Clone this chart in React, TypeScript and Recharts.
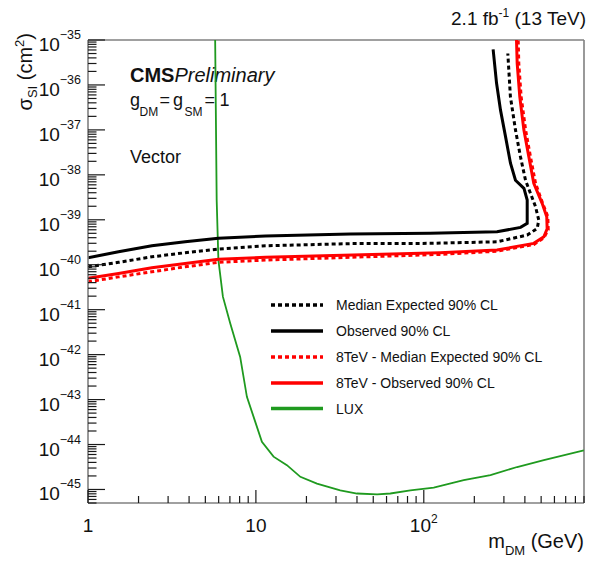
import React from 'react';
import { LineChart, Line, XAxis, YAxis, Customized } from 'recharts';

const W = 593;
const H = 565;
// plot frame (page pixels)
const PL = 88;
const PT = 40;
const PR = 584;
const PB = 503;
const FONT = '"Liberation Sans", Arial, Helvetica, sans-serif';

const massDomain: [number, number] = [1, 900];
const xsecDomain: [number, number] = [5e-46, 1e-35];

// 13 TeV observed 90% CL (GeV, cm^2)
const obs13Mass = [1, 1.52, 2.4, 3.79, 5.98, 11.4, 36.5, 109, 273, 377, 413, 413, 395, 351.6, 328.4, 306.8, 286.4, 271.2, 258.8];
const obs13Xsec = [1.43e-40, 1.94e-40, 2.64e-40, 3.24e-40, 3.86e-40, 4.35e-40, 4.81e-40, 4.99e-40, 5.41e-40, 6.78e-40, 8.32e-40, 2.75e-39, 5.01e-39, 7.59e-39, 1.82e-38, 7.08e-38, 2.75e-37, 1.10e-36, 6.17e-36];

// 13 TeV median expected 90% CL
const exp13Mass = [1, 1.52, 2.4, 3.79, 5.98, 11.4, 36.5, 109, 273, 413, 474, 484, 463, 403.6, 376.7, 351.6, 328, 316.6];
const exp13Xsec = [8.99e-41, 1.13e-40, 1.5e-40, 1.85e-40, 2.23e-40, 2.64e-40, 2.95e-40, 2.99e-40, 3.24e-40, 4.57e-40, 6.44e-40, 9.86e-40, 1.95e-39, 7.59e-39, 2.51e-38, 1.0e-37, 5.5e-37, 5.01e-36];

// 8 TeV observed 90% CL
const obs8Mass = [1, 1.52, 2.4, 3.79, 5.98, 11.4, 125, 273, 452, 519, 543, 540, 507, 452, 422.6, 394.5, 373, 360, 356.6];
const obs8Xsec = [4.97e-41, 6.41e-41, 8.55e-41, 1.07e-40, 1.32e-40, 1.46e-40, 1.85e-40, 2.12e-40, 2.99e-40, 4.19e-40, 6.31e-40, 1.17e-39, 2.32e-39, 6.46e-39, 2.51e-38, 1.0e-37, 5.5e-37, 3.02e-36, 1.0e-35];

// 8 TeV median expected 90% CL
const exp8Mass = [1, 1.52, 2.4, 3.79, 5.98, 11.4, 125, 273, 452, 519, 551, 548, 510, 463, 432, 404, 380, 368, 365];
const exp8Xsec = [4.17e-41, 5.37e-41, 6.97e-41, 8.99e-41, 1.13e-40, 1.27e-40, 1.7e-40, 2.0e-40, 2.82e-40, 3.98e-40, 6.03e-40, 1.17e-39, 2.34e-39, 6.46e-39, 2.51e-38, 1.0e-37, 5.5e-37, 3.02e-36, 1.0e-35];

// LUX limit
const luxMass = [5.72, 5.84, 5.98, 6.36, 7.03, 8.06, 8.84, 9.68, 10.86, 12.74, 15.3, 18.4, 23.1, 31.8, 40.0, 52.7, 63.2, 83.2, 114.6, 172.9, 249.5, 359.6, 518.8, 898];
const luxXsec = [1e-35, 2.75e-39, 1.26e-40, 1.95e-41, 5.01e-42, 8.91e-43, 1.15e-43, 4.17e-44, 1.15e-44, 5.37e-45, 3.47e-45, 1.91e-45, 1.35e-45, 9.55e-46, 8.13e-46, 7.76e-46, 8.13e-46, 9.55e-46, 1.10e-45, 1.62e-45, 2.09e-45, 3.16e-45, 4.47e-45, 7.41e-45];

const legendLabels = [
  'Median Expected 90% CL',
  'Observed 90% CL',
  '8TeV - Median Expected 90% CL',
  '8TeV - Observed 90% CL',
  'LUX',
];

const zip = (m: number[], s: number[]) => m.map((v, i) => ({ m: v, s: s[i] }));

const obs13 = zip(obs13Mass, obs13Xsec);
const exp13 = zip(exp13Mass, exp13Xsec);
const obs8 = zip(obs8Mass, obs8Xsec);
const exp8 = zip(exp8Mass, exp8Xsec);
const lux = zip(luxMass, luxXsec);

// decade + sub-decade tick values for the log axes
const logTicks = (eMin: number, eMax: number, lo: number, hi: number) => {
  const out: number[] = [];
  for (let e = eMin; e <= eMax; e++) {
    for (let k = 1; k <= 9; k++) {
      const v = Number(`${k}e${e}`);
      if (v >= lo * 0.999999 && v <= hi * 1.000001) out.push(v);
    }
  }
  return out;
};
const xTicks = logTicks(0, 2, massDomain[0], massDomain[1]);
const yTicks = logTicks(-46, -35, xsecDomain[0], xsecDomain[1]);

const decadeOf = (v: number) => {
  const l = Math.log10(v);
  const e = Math.round(l);
  return Math.abs(l - e) < 1e-6 ? e : null;
};

const BLACK = '#000000';
const RED = '#ff0000';
const GREEN = '#1f9a1f';
const DASH = '4 3';

function XTick(props: any) {
  const { x, payload } = props;
  const e = decadeOf(payload.value);
  const major = e !== null;
  return (
    <g>
      <line x1={x} x2={x} y1={PB} y2={PB - (major ? 13 : 7)} stroke="#1a1a1a" strokeWidth={1.2} />
      {major && (
        <text x={x} y={PB + 29} textAnchor="middle" fontFamily={FONT} fontSize={19} fill="#111">
          {e! < 2 ? String(10 ** e!) : (
            <>
              10
              <tspan dy={-9} fontSize={12}>{e}</tspan>
            </>
          )}
        </text>
      )}
    </g>
  );
}

function YTick(props: any) {
  const { y, payload } = props;
  const e = decadeOf(payload.value);
  const major = e !== null;
  return (
    <g>
      <line x1={PL} x2={PL + (major ? 17 : 8.5)} y1={y} y2={y} stroke="#1a1a1a" strokeWidth={1.2} />
      {major && (
        <text x={81} y={y + 11} textAnchor="end" fontFamily={FONT} fontSize={19} fill="#111">
          10
          <tspan dy={-12} fontSize={12.5}>{`\u2212${Math.abs(e!)}`}</tspan>
        </text>
      )}
    </g>
  );
}

const legendStyles = [
  { color: BLACK, dash: DASH },
  { color: BLACK, dash: undefined },
  { color: RED, dash: DASH },
  { color: RED, dash: undefined },
  { color: GREEN, dash: undefined },
];
const legendRowsY = [305, 331, 357, 383, 408.5];

function Overlay() {
  return (
    <g fontFamily={FONT} fill="#111">
      {/* frame top and right */}
      <line x1={PL} y1={PT} x2={PR} y2={PT} stroke="#808080" strokeWidth={1.6} />
      <line x1={PR} y1={PT} x2={PR} y2={PB} stroke="#808080" strokeWidth={1.6} />

      {/* label box */}
      <rect x={122} y={50} width={170} height={74} fill="#ffffff" />
      <text x={130} y={81.7} fontSize={20}>
        <tspan fontWeight="bold">CMS</tspan>
        <tspan fontStyle="italic">Preliminary</tspan>
      </text>
      <text y={106} fontSize={18}>
        <tspan x={130}>g</tspan>
        <tspan x={139.5} dy={10} fontSize={12}>DM</tspan>
        <tspan x={159.5} dy={-10}>=</tspan>
        <tspan x={173}>g</tspan>
        <tspan x={184.5} dy={10} fontSize={12}>SM</tspan>
        <tspan x={204.5} dy={-10}>=</tspan>
        <tspan x={219.5}>1</tspan>
      </text>
      <text x={130} y={163.3} fontSize={18}>Vector</text>

      {/* luminosity label */}
      <text x={586} y={25} textAnchor="end" fontSize={19}>
        2.1 fb<tspan dy={-8} fontSize={12}>-1</tspan>
        <tspan dy={8}> (13 TeV)</tspan>
      </text>

      {/* axis titles */}
      <text x={584} y={548} textAnchor="end" fontSize={20}>
        m<tspan dy={7} fontSize={13}>DM</tspan>
        <tspan dy={-7}> (GeV)</tspan>
      </text>
      <text transform="rotate(-90)" x={-33} y={31.5} textAnchor="end" fontSize={20}>
        σ<tspan dy={5} fontSize={13}>SI</tspan>
        <tspan dy={-5}> (cm</tspan>
        <tspan dy={-8} fontSize={13}>2</tspan>
        <tspan dy={8}>)</tspan>
      </text>

      {/* legend */}
      {legendLabels.map((label, i) => (
        <g key={label}>
          <line
            x1={271}
            x2={323}
            y1={legendRowsY[i]}
            y2={legendRowsY[i]}
            stroke={legendStyles[i].color}
            strokeWidth={3.3}
            strokeDasharray={legendStyles[i].dash}
          />
          <text x={336} y={legendRowsY[i] + 5} fontSize={14}>{label}</text>
        </g>
      ))}
    </g>
  );
}

export default function App() {
  return (
    <div style={{ position: 'absolute', left: 0, top: 0, width: W, height: H, background: '#fff' }}>
      <LineChart
        width={W}
        height={H}
        margin={{ top: PT, right: W - PR, bottom: 0, left: 0 }}
      >
        <XAxis
          dataKey="m"
          type="number"
          scale="log"
          domain={massDomain}
          allowDataOverflow
          ticks={xTicks}
          interval={0}
          tick={<XTick />}
          tickLine={false}
          axisLine={{ stroke: '#808080', strokeWidth: 1.6 }}
          height={H - PB}
        />
        <YAxis
          type="number"
          scale="log"
          domain={xsecDomain}
          allowDataOverflow
          ticks={yTicks}
          interval={0}
          tick={<YTick />}
          tickLine={false}
          axisLine={{ stroke: '#808080', strokeWidth: 1.6 }}
          width={PL}
        />
        <Line data={lux} dataKey="s" type="linear" stroke={GREEN} strokeWidth={1.8} dot={false} isAnimationActive={false} />
        <Line data={exp8} dataKey="s" type="linear" stroke={RED} strokeWidth={3} strokeDasharray={DASH} dot={false} isAnimationActive={false} />
        <Line data={obs8} dataKey="s" type="linear" stroke={RED} strokeWidth={3} dot={false} isAnimationActive={false} />
        <Line data={exp13} dataKey="s" type="linear" stroke={BLACK} strokeWidth={3} strokeDasharray={DASH} dot={false} isAnimationActive={false} />
        <Line data={obs13} dataKey="s" type="linear" stroke={BLACK} strokeWidth={3} dot={false} isAnimationActive={false} />
        <Customized component={Overlay} />
      </LineChart>
    </div>
  );
}
